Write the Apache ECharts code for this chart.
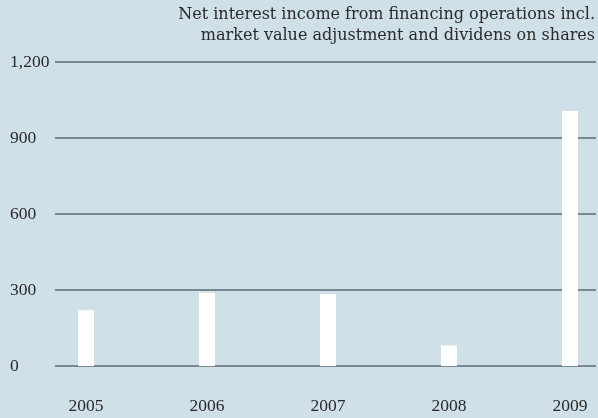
<!DOCTYPE html>
<html>
<head>
<meta charset="utf-8">
<script src="https://cdn.jsdelivr.net/npm/echarts@6/dist/echarts.min.js"></script>
<style>
  html, body { margin: 0; padding: 0; background: #d0e0e8; }
  #chart { width: 598px; height: 418px; }
</style>
</head>
<body>
<div id="chart"></div>
<script>
// Yearly values (millions)
const years = ['2005', '2006', '2007', '2008', '2009'];
const netInterestIncome = [220, 289, 284, 81, 1007];
const yTicks = [0, 300, 600, 900, 1200];
const titleLines = [
  'Net interest income from financing operations incl.',
  'market value adjustment and dividens on shares'
];

const titleFont = 'DejaVu Serif';
const axisFont = 'Liberation Serif';
const textColor = '#2a2a2a';
const lineColor = '#78888f';

const chart = echarts.init(document.getElementById('chart'), null, { renderer: 'canvas' });

// one right-aligned text element per title line
const titleGraphics = titleLines.map((line, i) => ({
  type: 'text',
  right: 3,
  top: 7 + i * 21,
  style: {
    text: line,
    font: '16px "' + titleFont + '"',
    fill: textColor
  }
}));

chart.setOption({
  backgroundColor: '#d0e0e8',
  animation: false,
  graphic: titleGraphics,
  grid: [
    // value scale with horizontal rules
    { left: 55, right: 2, top: 62, bottom: 52, containLabel: false },
    // bar positions
    { left: 86, right: 28, top: 62, bottom: 52, containLabel: false }
  ],
  xAxis: [
    { gridIndex: 0, type: 'value', show: false, min: 0, max: 1 },
    {
      gridIndex: 1,
      type: 'category',
      data: years,
      boundaryGap: false,
      axisLine: { show: false },
      axisTick: { show: false },
      axisLabel: {
        margin: 31,
        fontFamily: axisFont,
        fontSize: 17.5,
        color: textColor
      }
    }
  ],
  yAxis: [
    {
      gridIndex: 0,
      type: 'value',
      min: yTicks[0],
      max: yTicks[yTicks.length - 1],
      interval: yTicks[1] - yTicks[0],
      axisLine: { show: false },
      axisTick: { show: false },
      axisLabel: {
        margin: 45,
        align: 'left',
        fontFamily: axisFont,
        fontSize: 17.5,
        color: textColor,
        formatter: v => v.toLocaleString('en-US')
      },
      splitLine: { show: true, lineStyle: { color: lineColor, width: 2 } }
    },
    {
      gridIndex: 1,
      type: 'value',
      min: yTicks[0],
      max: yTicks[yTicks.length - 1],
      show: false
    }
  ],
  series: [
    {
      type: 'bar',
      xAxisIndex: 1,
      yAxisIndex: 1,
      data: netInterestIncome,
      barWidth: 16,
      itemStyle: { color: '#ffffff' },
      z: 5
    }
  ]
});
</script>
</body>
</html>
